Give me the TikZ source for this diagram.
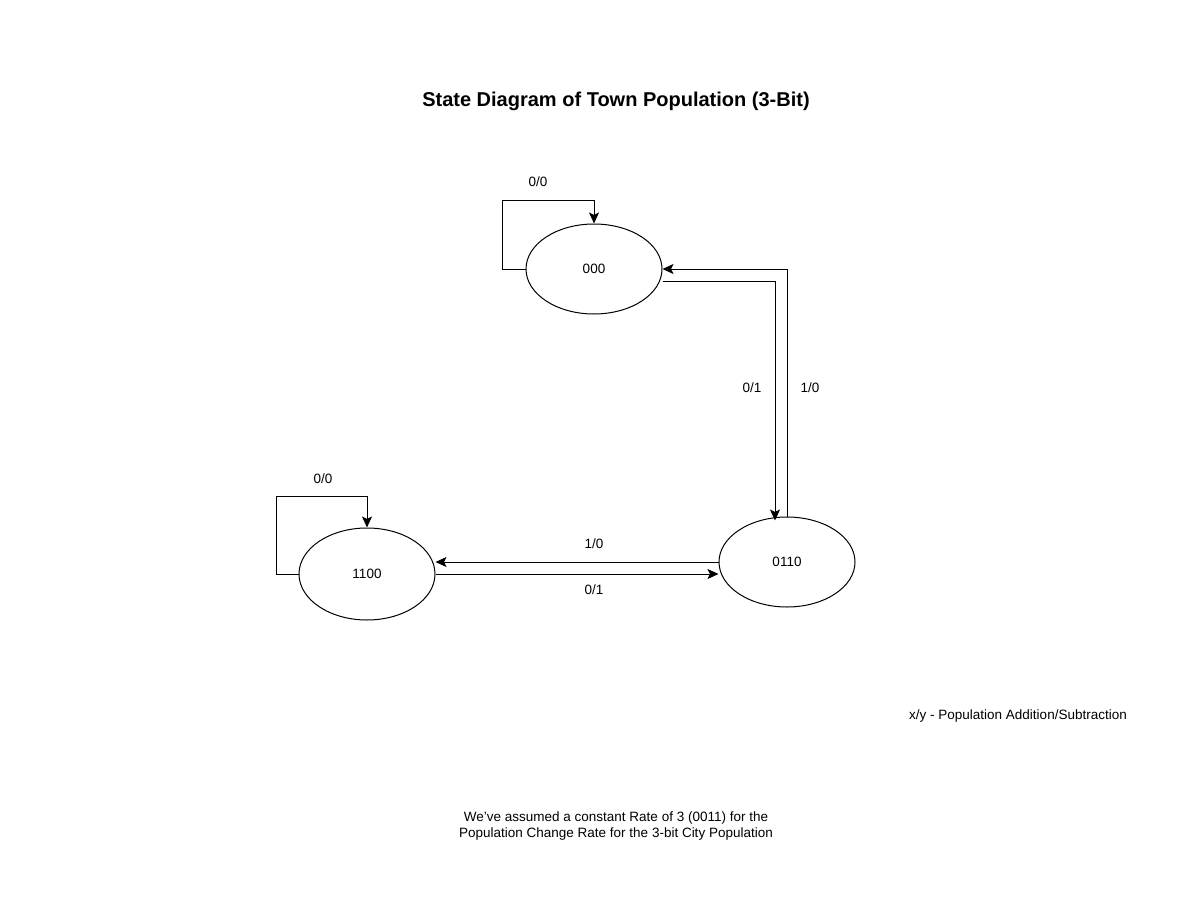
\documentclass[tikz,border=0pt]{standalone}
\usepackage{fontspec}
\setmainfont{Liberation Sans}
\usetikzlibrary{arrows.meta,shapes.geometric}
\begin{document}
\begin{tikzpicture}[x=1pt,y=-1pt,line width=1pt,>={Stealth[length=11pt,width=10pt,inset=2.5pt]},font=\fontsize{13.5}{16}\selectfont]
\useasboundingbox (0,0) rectangle (1196,920);
\node[font=\fontsize{20}{24}\selectfont\bfseries] (title) at (616,101) {State Diagram of Town Population (3-Bit)};
\node[draw, ellipse, minimum width=136pt, minimum height=90pt] (s000) at (594,269) {000};
\node[draw, ellipse, minimum width=136pt, minimum height=92pt] (s1100) at (367,574) {1100};
\node[draw, ellipse, minimum width=136pt, minimum height=90pt] (s0110) at (787,562) {0110};
\node (l000) at (538,182) {0/0};
\node (l1100) at (323,479) {0/0};
\node (ldown) at (752,388) {0/1};
\node (lup) at (810,388) {1/0};
\node (lleft) at (594,544) {1/0};
\node (lright) at (594,590) {0/1};
\node (legend) at (1018,716) {x/y - Population Addition/Subtraction};
\node[align=center] (note) at (616,826) {We\char39ve assumed a constant Rate of 3 (0011) for the\\Population Change Rate for the 3-bit City Population};
\draw[->] (s000.west) -- ++(-23,0) |- ([yshift=23pt]s000.north) -- (s000.north);
\draw[->] (s1100.west) -- ++(-22,0) |- ([yshift=31pt]s1100.north) -- (s1100.north);
\draw[->] ([yshift=-12pt]s000.east) -| ([xshift=-12pt,yshift=-4pt]s0110.north);
\draw[->] (s0110.north) |- (s000.east);
\draw[->] (s0110.west) -- (s0110.west -| s1100.east);
\draw[->] (s1100.east) -- (s1100.east -| s0110.west);
\end{tikzpicture}
\end{document}
